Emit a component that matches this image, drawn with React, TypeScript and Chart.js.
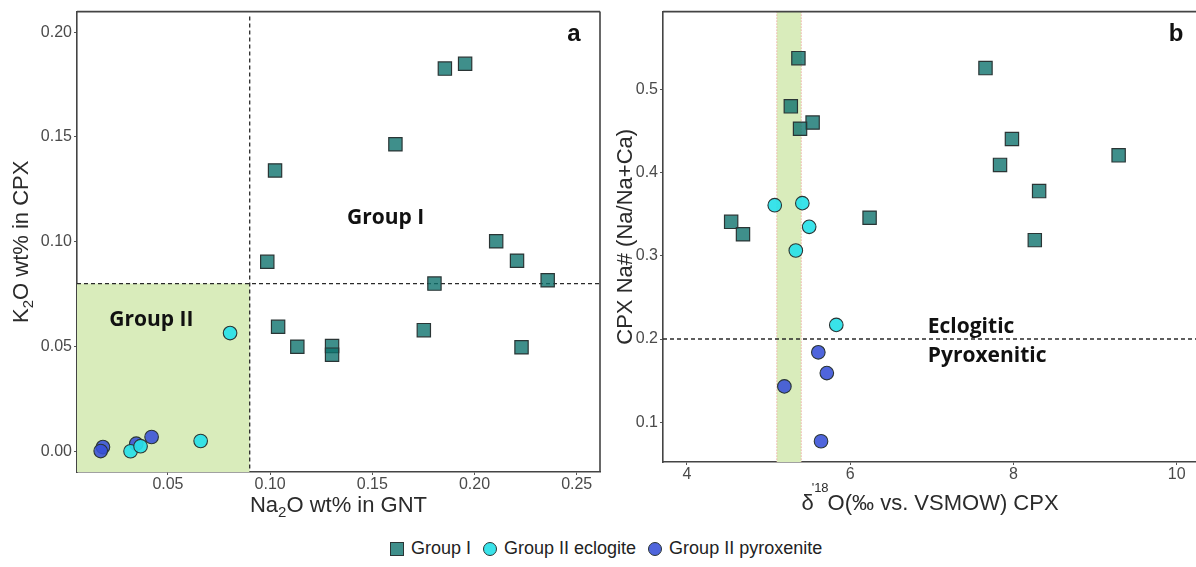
import React, { useEffect, useRef } from "react";
import { Chart, registerables } from "chart.js";

Chart.register(...registerables);

// ---------- DATA ----------
const seriesNames = ["Group I", "Group II eclogite", "Group II pyroxenite"];

// Panel a: Na2O wt% in GNT (x) vs K2O wt% in CPX (y)
const aGroupINa2O = [0.1855, 0.1954, 0.1613, 0.1024, 0.0986, 0.2106, 0.2208, 0.1804, 0.2358, 0.1039, 0.1133, 0.1303, 0.1303, 0.1752, 0.223];
const aGroupIK2O = [0.1826, 0.1849, 0.1465, 0.134, 0.0904, 0.1002, 0.0909, 0.08, 0.0816, 0.0594, 0.0499, 0.0502, 0.0461, 0.0578, 0.0496];
const aEclogiteNa2O = [0.0804, 0.066, 0.0317, 0.0366];
const aEclogiteK2O = [0.0564, 0.0049, 0.0, 0.0024];
const aPyroxeniteNa2O = [0.042, 0.0345, 0.0182, 0.0171];
const aPyroxeniteK2O = [0.0068, 0.0036, 0.002, 0.0001];

// Panel b: d18O CPX (x) vs CPX Na# (y)
const bGroupID18O = [5.365, 7.657, 5.272, 5.539, 5.385, 7.981, 7.835, 9.288, 8.314, 8.261, 6.237, 4.541, 4.686];
const bGroupINaNum = [0.538, 0.526, 0.48, 0.4605, 0.453, 0.4406, 0.4095, 0.421, 0.378, 0.319, 0.346, 0.341, 0.326];
const bEclogiteD18O = [5.075, 5.413, 5.497, 5.333, 5.829];
const bEclogiteNaNum = [0.361, 0.3635, 0.335, 0.3065, 0.217];
const bPyroxeniteD18O = [5.609, 5.713, 5.193, 5.642];
const bPyroxeniteNaNum = [0.184, 0.159, 0.143, 0.077];

// Reference lines / regions
const na2oThreshold = 0.09;
const k2oThreshold = 0.08;
const naNumThreshold = 0.2;
const mantleD18O = [5.1, 5.4];

// Tick labels
const aTicksX = [0.05, 0.1, 0.15, 0.2, 0.25];
const aTicksY = [0.0, 0.05, 0.1, 0.15, 0.2];
const bTicksX = [4, 6, 8, 10];
const bTicksY = [0.1, 0.2, 0.3, 0.4, 0.5];

// Axis ranges
const aRangeX = [0.0055, 0.2614];
const aRangeY = [-0.0099, 0.2098];
const bRangeX = [3.706, 10.236];
const bRangeY = [0.052, 0.594];

// Annotation labels (data coordinates: left x, baseline y)
const aLabels = [
  { text: "Group I", x: 0.1376, y: 0.1085 },
  { text: "Group II", x: 0.0213, y: 0.0599 },
];
const bLabels = [
  { text: "Eclogitic", x: 6.95, y: 0.2078 },
  { text: "Pyroxenitic", x: 6.95, y: 0.1719 },
];

// ---------- STYLE ----------
const FONT = "'Liberation Sans', Arial, sans-serif";
const BOLD_FONT = "'Open Sans', 'Liberation Sans', sans-serif";
const colGroupI = "rgba(15,115,110,0.8)";
const colEclogite = "rgba(40,225,232,0.92)";
const colPyroxenite = "rgba(55,80,215,0.88)";
const markerBorder = "#2a3535";
const shade = "#d9ecbb";

type Part = { text: string; size: number; dy?: number; dx?: number };

function drawRich(ctx: CanvasRenderingContext2D, parts: Part[], cx: number, baseline: number) {
  let total = 0;
  const widths = parts.map((p) => {
    ctx.font = `${p.size}px ${FONT}`;
    const w = ctx.measureText(p.text).width + (p.dx || 0);
    total += w;
    return w;
  });
  let x = cx - total / 2;
  ctx.textAlign = "left";
  ctx.textBaseline = "alphabetic";
  ctx.fillStyle = "#2b2b2b";
  parts.forEach((p, i) => {
    ctx.font = `${p.size}px ${FONT}`;
    ctx.fillText(p.text, x + (p.dx || 0), baseline + (p.dy || 0));
    x += widths[i];
  });
}

function pts(xs: number[], ys: number[]) {
  return xs.map((x, i) => ({ x, y: ys[i] }));
}

function makeDatasets(gx: number[], gy: number[], ex: number[], ey: number[], px: number[], py: number[]) {
  return [
    {
      label: seriesNames[0],
      data: pts(gx, gy),
      pointStyle: "rect",
      pointRadius: 9.4,
      backgroundColor: colGroupI,
      borderColor: markerBorder,
      borderWidth: 1.2,
    },
    {
      label: seriesNames[1],
      data: pts(ex, ey),
      pointStyle: "circle",
      pointRadius: 6.8,
      backgroundColor: colEclogite,
      borderColor: markerBorder,
      borderWidth: 1.1,
    },
    {
      label: seriesNames[2],
      data: pts(px, py),
      pointStyle: "circle",
      pointRadius: 6.8,
      backgroundColor: colPyroxenite,
      borderColor: markerBorder,
      borderWidth: 1.1,
    },
  ];
}

function axis(min: number, max: number, ticks: number[], decimals: number, fit: number, isX: boolean) {
  return {
    type: "linear",
    min,
    max,
    afterBuildTicks: (s: any) => {
      s.ticks = ticks.map((v) => ({ value: v }));
    },
    afterFit: (s: any) => {
      if (isX) s.height = fit;
      else s.width = fit;
    },
    grid: { display: true, drawOnChartArea: false, drawTicks: true, tickLength: 3, color: "#555", lineWidth: 1 },
    border: { display: true, color: "#444", width: 1.6 },
    ticks: {
      autoSkip: false,
      maxRotation: 0,
      padding: isX ? 0 : 2,
      color: "#4a4a4a",
      font: { family: FONT, size: 16 },
      callback: (v: any) => Number(v).toFixed(decimals),
    },
    title: { display: false },
  };
}

function dashed(ctx: CanvasRenderingContext2D, x1: number, y1: number, x2: number, y2: number) {
  ctx.save();
  ctx.strokeStyle = "#2a2a2a";
  ctx.lineWidth = 1.3;
  ctx.setLineDash([4, 3]);
  ctx.beginPath();
  ctx.moveTo(x1, y1);
  ctx.lineTo(x2, y2);
  ctx.stroke();
  ctx.restore();
}

function frame(ctx: CanvasRenderingContext2D, ca: any, right: boolean) {
  ctx.save();
  ctx.strokeStyle = "#444";
  ctx.lineWidth = 1.6;
  ctx.beginPath();
  ctx.moveTo(ca.left, ca.top);
  ctx.lineTo(ca.right, ca.top);
  if (right) {
    ctx.moveTo(ca.right, ca.top);
    ctx.lineTo(ca.right, ca.bottom);
  }
  ctx.stroke();
  ctx.restore();
}

function drawLabels(chart: any, labels: { text: string; x: number; y: number }[]) {
  const { ctx, scales } = chart;
  ctx.save();
  ctx.font = `bold 21px ${BOLD_FONT}`;
  ctx.fillStyle = "#111";
  ctx.textAlign = "left";
  ctx.textBaseline = "alphabetic";
  labels.forEach((l) => {
    ctx.fillText(l.text, scales.x.getPixelForValue(l.x), scales.y.getPixelForValue(l.y));
  });
  ctx.restore();
}

function panelLetter(chart: any, letter: string, dx: number) {
  const { ctx, chartArea: ca } = chart;
  ctx.save();
  ctx.font = `bold 24px ${FONT}`;
  ctx.fillStyle = "#111";
  ctx.textAlign = "center";
  ctx.textBaseline = "alphabetic";
  ctx.fillText(letter, ca.right - dx, ca.top + 29);
  ctx.restore();
}

const panelAPlugin = {
  id: "panelA",
  beforeDatasetsDraw(chart: any) {
    const { ctx, chartArea: ca, scales } = chart;
    const xs = scales.x;
    const ys = scales.y;
    const xT = xs.getPixelForValue(na2oThreshold);
    const yT = ys.getPixelForValue(k2oThreshold);
    ctx.save();
    ctx.fillStyle = shade;
    ctx.fillRect(ca.left, yT, xT - ca.left, ca.bottom - yT);
    ctx.restore();
    dashed(ctx, xT, ca.top + 5, xT, ca.bottom);
    dashed(ctx, ca.left, yT, ca.right, yT);
  },
  afterDraw(chart: any) {
    const { ctx, chartArea: ca } = chart;
    drawLabels(chart, aLabels);
    frame(ctx, ca, true);
    panelLetter(chart, "a", 26);
    drawRich(
      ctx,
      [
        { text: "Na", size: 22 },
        { text: "2", size: 15, dy: 5 },
        { text: "O wt% in GNT", size: 22 },
      ],
      (ca.left + ca.right) / 2,
      511.5
    );
    ctx.save();
    ctx.translate(27.5, (ca.top + ca.bottom) / 2);
    ctx.rotate(-Math.PI / 2);
    drawRich(
      ctx,
      [
        { text: "K", size: 22 },
        { text: "2", size: 15, dy: 5 },
        { text: "O wt% in CPX", size: 22 },
      ],
      0,
      0
    );
    ctx.restore();
  },
};

const panelBPlugin = {
  id: "panelB",
  beforeDatasetsDraw(chart: any) {
    const { ctx, chartArea: ca, scales } = chart;
    const x1 = scales.x.getPixelForValue(mantleD18O[0]);
    const x2 = scales.x.getPixelForValue(mantleD18O[1]);
    ctx.save();
    ctx.fillStyle = shade;
    ctx.fillRect(x1, ca.top, x2 - x1, ca.bottom - ca.top);
    ctx.strokeStyle = "rgba(240,120,120,0.8)";
    ctx.lineWidth = 1;
    ctx.setLineDash([1, 2]);
    ctx.beginPath();
    ctx.moveTo(x1, ca.top);
    ctx.lineTo(x1, ca.bottom);
    ctx.moveTo(x2, ca.top);
    ctx.lineTo(x2, ca.bottom);
    ctx.stroke();
    ctx.restore();
    const yT = scales.y.getPixelForValue(naNumThreshold);
    dashed(ctx, ca.left, yT, ca.right, yT);
  },
  afterDraw(chart: any) {
    const { ctx, chartArea: ca } = chart;
    drawLabels(chart, bLabels);
    frame(ctx, ca, false);
    panelLetter(chart, "b", 20);
    drawRich(
      ctx,
      [
        { text: "δ", size: 22 },
        { text: "'18", size: 13, dy: -18, dx: -2 },
        { text: "O(‰ vs. VSMOW) CPX", size: 22, dx: -1 },
      ],
      320,
      510
    );
    ctx.save();
    ctx.translate(22, (ca.top + ca.bottom) / 2);
    ctx.rotate(-Math.PI / 2);
    drawRich(ctx, [{ text: "CPX Na# (Na/Na+Ca)", size: 22 }], 0, 0);
    ctx.restore();
  },
};

function baseOptions(padding: any, scales: any) {
  return {
    responsive: false,
    animation: false,
    layout: { padding, autoPadding: false },
    plugins: { legend: { display: false }, tooltip: { enabled: false } },
    scales,
  };
}

const legendStyles = [
  { bg: colGroupI, radius: "0" },
  { bg: colEclogite, radius: "50%" },
  { bg: colPyroxenite, radius: "50%" },
];

export default function App() {
  const refA = useRef<HTMLCanvasElement>(null);
  const refB = useRef<HTMLCanvasElement>(null);

  useEffect(() => {
    const chartA = new Chart(refA.current as HTMLCanvasElement, {
      type: "scatter",
      data: {
        datasets: makeDatasets(aGroupINa2O, aGroupIK2O, aEclogiteNa2O, aEclogiteK2O, aPyroxeniteNa2O, aPyroxeniteK2O) as any,
      },
      options: baseOptions({ left: 0, top: 9, right: 10, bottom: 0 }, {
        x: axis(aRangeX[0], aRangeX[1], aTicksX, 2, 48, true),
        y: axis(aRangeY[0], aRangeY[1], aTicksY, 2, 77, false),
      }) as any,
      plugins: [panelAPlugin],
    });
    const chartB = new Chart(refB.current as HTMLCanvasElement, {
      type: "scatter",
      data: {
        datasets: makeDatasets(bGroupID18O, bGroupINaNum, bEclogiteD18O, bEclogiteNaNum, bPyroxeniteD18O, bPyroxeniteNaNum) as any,
      },
      options: baseOptions({ left: 0, top: 9, right: 0, bottom: 0 }, {
        x: axis(bRangeX[0], bRangeX[1], bTicksX, 0, 58, true),
        y: axis(bRangeY[0], bRangeY[1], bTicksY, 1, 53, false),
      }) as any,
      plugins: [panelBPlugin],
    });
    return () => {
      chartA.destroy();
      chartB.destroy();
    };
  }, []);

  return (
    <div style={{ position: "absolute", left: 0, top: 0, width: 1196, height: 567, background: "#fff", overflow: "hidden" }}>
      <canvas ref={refA} width={610} height={520} style={{ position: "absolute", left: 0, top: 0, width: 610, height: 520 }} />
      <canvas ref={refB} width={586} height={520} style={{ position: "absolute", left: 610, top: 0, width: 586, height: 520 }} />
      <div
        style={{
          position: "absolute",
          left: 390,
          top: 538,
          display: "flex",
          alignItems: "center",
          fontFamily: FONT,
          fontSize: 18,
          color: "#222",
          whiteSpace: "nowrap",
        }}
      >
        {seriesNames.map((name, i) => (
          <div key={name} style={{ display: "flex", alignItems: "center", marginRight: 12 }}>
            <span
              style={{
                display: "inline-block",
                width: 12,
                height: 12,
                background: legendStyles[i].bg,
                border: `1px solid ${markerBorder}`,
                borderRadius: legendStyles[i].radius,
                marginRight: 7,
              }}
            />
            <span>{name}</span>
          </div>
        ))}
      </div>
    </div>
  );
}
